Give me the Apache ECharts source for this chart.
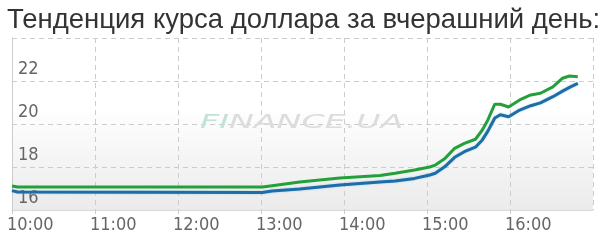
<!DOCTYPE html>
<html><head><meta charset="utf-8">
<script src="https://cdn.jsdelivr.net/npm/echarts@6/dist/echarts.min.js"></script>
<style>html,body{margin:0;padding:0;background:#fff}#c{width:610px;height:246px}</style>
</head><body><div id="c"></div>
<script>
const titleText = 'Тенденция курса доллара за вчерашний день:';
const times = ['10:00','10:04','13:01','13:08','13:28','13:57','14:26','14:37','14:51','15:02','15:06','15:13','15:20','15:27','15:35','15:40','15:44','15:49','15:53','15:59','16:07','16:15','16:22','16:31','16:38','16:43','16:49'];
const greenValues = [17.12,17.07,17.07,17.13,17.30,17.49,17.60,17.71,17.86,18.00,18.09,18.40,18.87,19.10,19.29,19.72,20.19,20.92,20.92,20.79,21.12,21.35,21.43,21.73,22.13,22.23,22.20];
const blueValues = [16.90,16.84,16.81,16.88,16.98,17.16,17.30,17.35,17.47,17.63,17.71,18.02,18.45,18.71,18.92,19.26,19.67,20.28,20.43,20.34,20.65,20.85,20.98,21.27,21.53,21.70,21.89];
const yTicks = [16, 18, 20, 22, 24];
const xTickLabels = ['10:00','11:00','12:00','13:00','14:00','15:00','16:00','17:00'];

const toMin = s => { const p = s.split(':'); return (+p[0]) * 60 + (+p[1]); };
const pair = vals => times.map((t, i) => [toMin(t), vals[i]]);
const fmt = m => { const h = Math.floor(m / 60), mm = m % 60; return h + ':' + (mm < 10 ? '0' : '') + mm; };

const chart = echarts.init(document.getElementById('c'), null, {renderer: 'canvas'});
const labelFont = 'DejaVu Sans Condensed';
chart.setOption({
  animation: false,
  title: {
    text: titleText, left: 2, top: 1,
    textStyle: {fontFamily: 'Liberation Sans', fontSize: 27.5, fontWeight: 'normal', color: '#333'}
  },
  grid: {
    left: 12, right: 17, top: 38, bottom: 36, show: true, borderWidth: 0,
    backgroundColor: new echarts.graphic.LinearGradient(0, 0, 0, 1, [
      {offset: 0, color: '#ffffff'}, {offset: 0.4, color: '#ffffff'}, {offset: 1, color: '#ebebeb'}
    ])
  },
  graphic: [{
    type: 'text', left: 200, top: 114, z: 1, scaleX: 1.75, silent: true,
    style: {
      text: '{a|FI}{b|NANCE.UA}', fontFamily: 'DejaVu Sans', fontStyle: 'italic', fontSize: 19,
      rich: {
        a: {fill: '#bfe3da', fontFamily: 'DejaVu Sans', fontStyle: 'italic', fontSize: 19},
        b: {fill: '#dcdcdc', fontFamily: 'DejaVu Sans', fontStyle: 'italic', fontSize: 19}
      }
    }
  }],
  xAxis: {
    type: 'value', min: toMin(xTickLabels[0]), max: toMin(xTickLabels[xTickLabels.length - 1]), interval: 60,
    axisLine: {show: true, lineStyle: {color: '#d8d8d8', width: 1}},
    axisTick: {show: true, length: 6, lineStyle: {color: '#cccccc', type: 'dashed'}},
    splitLine: {show: true, lineStyle: {color: '#cccccc', type: [5, 4], width: 1}},
    axisLabel: {
      formatter: v => fmt(v), showMaxLabel: false, align: 'left', margin: 6, padding: [0, 0, 0, -5],
      color: '#666', fontFamily: labelFont, fontSize: 18
    }
  },
  yAxis: {
    type: 'value', min: yTicks[0], max: yTicks[yTicks.length - 1], interval: 2,
    axisLine: {show: true, lineStyle: {color: '#cccccc', type: [5, 4]}},
    axisTick: {show: false},
    splitLine: {show: true, lineStyle: {color: '#cccccc', type: [5, 4], width: 1}},
    axisLabel: {
      inside: true, showMaxLabel: false, verticalAlign: 'bottom', align: 'left', margin: 6,
      padding: [0, 0, 3, 0], color: '#666', fontFamily: labelFont, fontSize: 18
    }
  },
  series: [
    {type: 'line', data: pair(blueValues), showSymbol: false, z: 3,
     lineStyle: {color: '#1b6ea8', width: 3, shadowColor: 'rgba(120,180,220,0.6)', shadowBlur: 2}},
    {type: 'line', data: pair(greenValues), showSymbol: false, z: 4,
     lineStyle: {color: '#23a03a', width: 3}}
  ]
});
</script></body></html>
